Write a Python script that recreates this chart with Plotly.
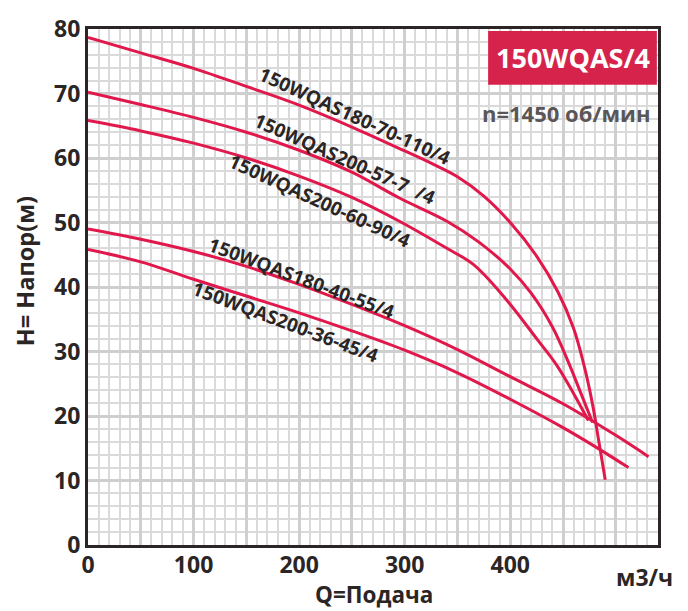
import plotly.graph_objects as go

# ---- data ----
q_180_70_110 = [0, 50, 100, 150, 200, 250, 300, 325, 350, 375, 400, 425, 445, 460, 470, 478, 484, 490]
h_180_70_110 = [78.7, 76.3, 73.9, 71.1, 68.2, 64.8, 61.1, 59.2, 57.1, 54.1, 50.0, 44.8, 39.3, 33.6, 27.8, 21.8, 16.0, 10.1]

q_200_57_7 = [0, 50, 100, 150, 200, 250, 295, 340, 370, 400, 420, 440, 455, 467, 478]
h_200_57_7 = [70.2, 68.3, 66.3, 64.0, 61.2, 57.8, 53.8, 50.2, 47.0, 42.8, 39.0, 33.8, 28.4, 23.5, 19.0]

q_200_60_90 = [0, 50, 100, 150, 200, 250, 295, 340, 365, 395, 425, 444, 460, 474]
h_200_60_90 = [65.8, 64.2, 62.3, 60.0, 57.2, 53.9, 50.2, 46.0, 43.5, 38.3, 32.0, 27.9, 23.5, 19.3]

q_180_40_55 = [0, 50, 100, 150, 200, 250, 300, 350, 400, 450, 500, 531]
h_180_40_55 = [49.0, 47.4, 45.5, 43.2, 40.4, 37.3, 34.0, 30.3, 26.1, 21.9, 17.0, 13.7]

q_200_36_45 = [0, 50, 100, 150, 200, 250, 300, 350, 400, 450, 482, 512]
h_200_36_45 = [45.8, 43.9, 41.2, 38.6, 36.0, 33.2, 30.2, 26.7, 22.6, 18.2, 15.1, 12.0]

curve_names = ["150WQAS180-70-110/4", "150WQAS200-57-7\u00a0\u00a0/4", "150WQAS200-60-90/4",
               "150WQAS180-40-55/4", "150WQAS200-36-45/4"]

# x tick labels shown only every 100; the 50-step ticks carry the heavier grid lines
x_label_alias = {50: " ", 150: " ", 250: " ", 350: " ", 450: " ", 500: " "}

# ---- figure ----
RED = "#E0184B"
DARK = "#2b2525"
FONT = "Open Sans"

fig = go.Figure()
series = [(q_180_70_110, h_180_70_110), (q_200_57_7, h_200_57_7), (q_200_60_90, h_200_60_90),
          (q_180_40_55, h_180_40_55), (q_200_36_45, h_200_36_45)]
for (qx, hy), name in zip(series, curve_names):
    fig.add_trace(go.Scatter(x=qx, y=hy, mode="lines", name=name,
                             line=dict(color=RED, width=3, shape="spline", smoothing=1.0),
                             hoverinfo="skip"))

# curve labels (paper coords)
label_pos = [(0.468, 0.832, 24.5), (0.451, 0.749, 24), (0.407, 0.666, 24.5),
             (0.374, 0.517, 20.5), (0.347, 0.432, 20.5)]
for name, (px, py, ang) in zip(curve_names, label_pos):
    fig.add_annotation(x=px, y=py, xref="paper", yref="paper", text=name, showarrow=False,
                       textangle=ang, xanchor="center", yanchor="middle",
                       font=dict(family=FONT, size=19, color=DARK, weight="bold"))

# title box
fig.add_shape(type="rect", xref="paper", yref="paper", x0=0.702, x1=0.998, y0=0.892, y1=0.996,
              fillcolor="#D6234C", line=dict(width=0), layer="above")
fig.add_annotation(x=0.85, y=0.944, xref="paper", yref="paper", text="150WQAS/4", showarrow=False,
                   xanchor="center", yanchor="middle",
                   font=dict(family=FONT, size=27, color="white", weight="bold"))
fig.add_annotation(x=0.989, y=0.838, xref="paper", yref="paper", text="n=1450 об/мин", showarrow=False,
                   xanchor="right", yanchor="middle",
                   font=dict(family=FONT, size=22, color="#5a5657", weight="bold"))

# axis titles
fig.add_annotation(x=-0.111, y=0.53, xref="paper", yref="paper", text="H= Напор(м)", showarrow=False,
                   textangle=-90, xanchor="center", yanchor="middle",
                   font=dict(family=FONT, size=23.5, color=DARK, weight="bold"))
fig.add_annotation(x=0.502, y=-0.096, xref="paper", yref="paper", text="Q=Подача", showarrow=False,
                   xanchor="center", yanchor="middle", borderpad=0,
                   font=dict(family=FONT, size=22.5, color=DARK, weight="bold"))
fig.add_annotation(x=0.977, y=-0.062, xref="paper", yref="paper", text="м3/ч", showarrow=False,
                   xanchor="center", yanchor="middle",
                   font=dict(family=FONT, size=23, color=DARK, weight="bold"))

fig.update_layout(
    width=688, height=611,
    margin=dict(l=88, r=30, t=15, b=66),
    paper_bgcolor="white", plot_bgcolor="white",
    showlegend=False,
    xaxis=dict(range=[0, 540], tickmode="linear", tick0=0, dtick=50, labelalias=x_label_alias,
               showgrid=True, gridcolor="#cfcfcf", gridwidth=3,
               minor=dict(dtick=10, tick0=0, showgrid=True, gridcolor="#dadada", gridwidth=2),
               showline=True, linecolor=DARK, linewidth=3, mirror=True,
               zeroline=False, ticks="", ticklabeloverflow="allow", ticklabelstandoff=-3,
               tickfont=dict(family=FONT, size=23, color=DARK, weight="bold")),
    yaxis=dict(range=[0, 80], tickmode="linear", tick0=0, dtick=10,
               showgrid=True, gridcolor="#cfcfcf", gridwidth=3,
               minor=dict(dtick=2, tick0=0, showgrid=True, gridcolor="#dadada", gridwidth=2),
               showline=True, linecolor=DARK, linewidth=3, mirror=True,
               zeroline=False, ticks="", ticklabeloverflow="allow",
               tickfont=dict(family=FONT, size=23, color=DARK, weight="bold")),
)

fig.write_html("out.html", config={"displayModeBar": False},
               post_script="document.body.style.margin='0';")
